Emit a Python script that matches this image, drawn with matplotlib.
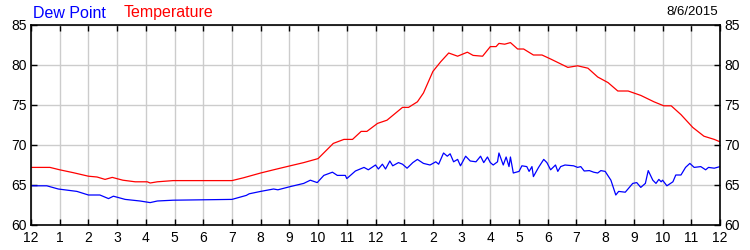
import matplotlib
matplotlib.use('Agg')
import matplotlib.pyplot as plt

plt.rcParams['font.family'] = ['Liberation Sans', 'DejaVu Sans']

# hours since midnight, temperature (F)
temp_hours = [0, 0.66, 1.0, 1.46, 2.0, 2.3, 2.58, 2.83, 3.2, 3.63, 4.05, 4.15, 4.4, 4.95,
              7.0, 7.4, 8.0, 8.45, 9.03, 9.5, 10.0, 10.53, 10.9, 11.2, 11.5, 11.7, 12.07,
              12.4, 12.94, 13.15, 13.46, 13.67, 14.0, 14.27, 14.55, 14.86, 15.2, 15.4,
              15.73, 16.0, 16.2, 16.3, 16.5, 16.7, 16.95, 17.16, 17.5, 17.8, 18.1, 18.7,
              19.04, 19.4, 19.74, 20.1, 20.44, 20.8, 21.24, 21.7, 22.04, 22.3, 22.64,
              23.05, 23.44, 23.8, 24.0]
temperature = [67.2, 67.2, 66.9, 66.55, 66.1, 66.0, 65.7, 65.95, 65.6, 65.4, 65.4, 65.25,
               65.4, 65.55, 65.55, 65.9, 66.5, 66.9, 67.4, 67.8, 68.3, 70.2, 70.7, 70.7,
               71.7, 71.7, 72.7, 73.1, 74.7, 74.7, 75.4, 76.5, 79.2, 80.4, 81.5, 81.1,
               81.6, 81.2, 81.1, 82.3, 82.3, 82.7, 82.6, 82.8, 82.0, 82.0, 81.25, 81.25,
               80.75, 79.7, 79.9, 79.6, 78.5, 77.8, 76.75, 76.75, 76.2, 75.4, 74.9, 74.9,
               73.8, 72.2, 71.1, 70.7, 70.4]

# hours since midnight, dew point (F)
dew_hours = [0, 0.55, 0.95, 1.6, 2.0, 2.4, 2.7, 2.87, 3.28, 3.8, 4.15, 4.4, 4.95, 7.0,
             7.5, 7.6, 8.0, 8.45, 8.6, 9.03, 9.5, 9.73, 9.97, 10.2, 10.5, 10.67, 10.95,
             11.0, 11.3, 11.6, 11.75, 12.0, 12.1, 12.24, 12.35, 12.5, 12.6, 12.8, 12.94,
             13.1, 13.3, 13.46, 13.67, 13.9, 14.1, 14.2, 14.37, 14.5, 14.6, 14.72, 14.86,
             14.96, 15.14, 15.3, 15.5, 15.66, 15.77, 15.9, 16.0, 16.1, 16.25, 16.3, 16.45,
             16.55, 16.65, 16.7, 16.8, 17.0, 17.1, 17.27, 17.35, 17.45, 17.5, 17.68,
             17.86, 17.97, 18.1, 18.27, 18.35, 18.45, 18.6, 18.9, 19.04, 19.15, 19.27,
             19.45, 19.6, 19.74, 19.85, 20.0, 20.2, 20.37, 20.47, 20.7, 20.96, 21.1,
             21.24, 21.4, 21.5, 21.66, 21.77, 21.87, 21.95, 22.0, 22.15, 22.36, 22.46,
             22.64, 22.8, 22.95, 23.1, 23.33, 23.5, 23.6, 23.8, 24.0]
dew_point = [64.9, 64.9, 64.5, 64.2, 63.75, 63.75, 63.3, 63.6, 63.2, 63.0, 62.8, 63.0,
             63.1, 63.2, 63.7, 63.9, 64.2, 64.5, 64.4, 64.8, 65.2, 65.6, 65.3, 66.2,
             66.6, 66.2, 66.2, 65.8, 66.75, 67.2, 66.9, 67.5, 67.0, 67.6, 67.0, 68.0,
             67.4, 67.8, 67.6, 67.1, 67.8, 68.2, 67.7, 67.5, 67.9, 67.6, 69.0, 68.6,
             68.9, 67.9, 68.2, 67.4, 68.6, 68.0, 67.9, 68.6, 67.8, 68.5, 67.8, 67.5,
             67.9, 69.0, 67.5, 68.5, 67.3, 68.5, 66.5, 66.7, 67.4, 67.3, 66.7, 67.3,
             66.05, 67.2, 68.2, 67.8, 66.9, 67.5, 66.7, 67.3, 67.5, 67.4, 67.2, 67.3,
             66.75, 66.8, 66.6, 66.5, 66.8, 66.7, 65.6, 63.75, 64.2, 64.1, 65.2, 65.3,
             64.7, 65.2, 66.8, 65.6, 65.2, 65.7, 65.4, 65.6, 64.9, 65.4, 66.25, 66.25,
             67.2, 67.7, 67.2, 67.3, 66.9, 67.2, 67.1, 67.3]

tick_hours = list(range(0, 25))
tick_labels = ['12'] + [str(h) for h in range(1, 12)] + ['12'] + [str(h) for h in range(1, 12)] + ['12']
y_ticks = [60, 65, 70, 75, 80, 85]

fig = plt.figure(figsize=(7.5, 2.5), dpi=100)
ax = fig.add_axes([31 / 750, 25 / 250, 689 / 750, 200 / 250])

ax.plot(temp_hours, temperature, color='#ff0000', lw=0.9)
ax.plot(dew_hours, dew_point, color='#0000ff', lw=0.9)

ax.set_xlim(0, 24)
ax.set_ylim(60, 85)
ax.set_xticks(tick_hours)
ax.set_xticklabels(tick_labels)
ax.set_yticks(y_ticks)
ax.grid(True, color='#cccccc', lw=1.0)
ax.set_axisbelow(True)
ax.tick_params(axis='both', direction='in', length=4, width=1, labelsize=10,
               top=True, right=True, labelright=True, pad=3)
ax.tick_params(axis='x', pad=4)
for s in ax.spines.values():
    s.set_linewidth(1.2)

fig.text(33 / 750, 1 - 13 / 250, 'Dew Point', color='#0000ff', fontsize=11.5, va='center')
fig.text(124 / 750, 1 - 13 / 250, 'Temperature', color='#ff0000', fontsize=11.5, va='center')
fig.text(718 / 750, 1 - 12 / 250, '8/6/2015', color='black', fontsize=9.5, va='center', ha='right')

fig.savefig('out.png', dpi=100)
